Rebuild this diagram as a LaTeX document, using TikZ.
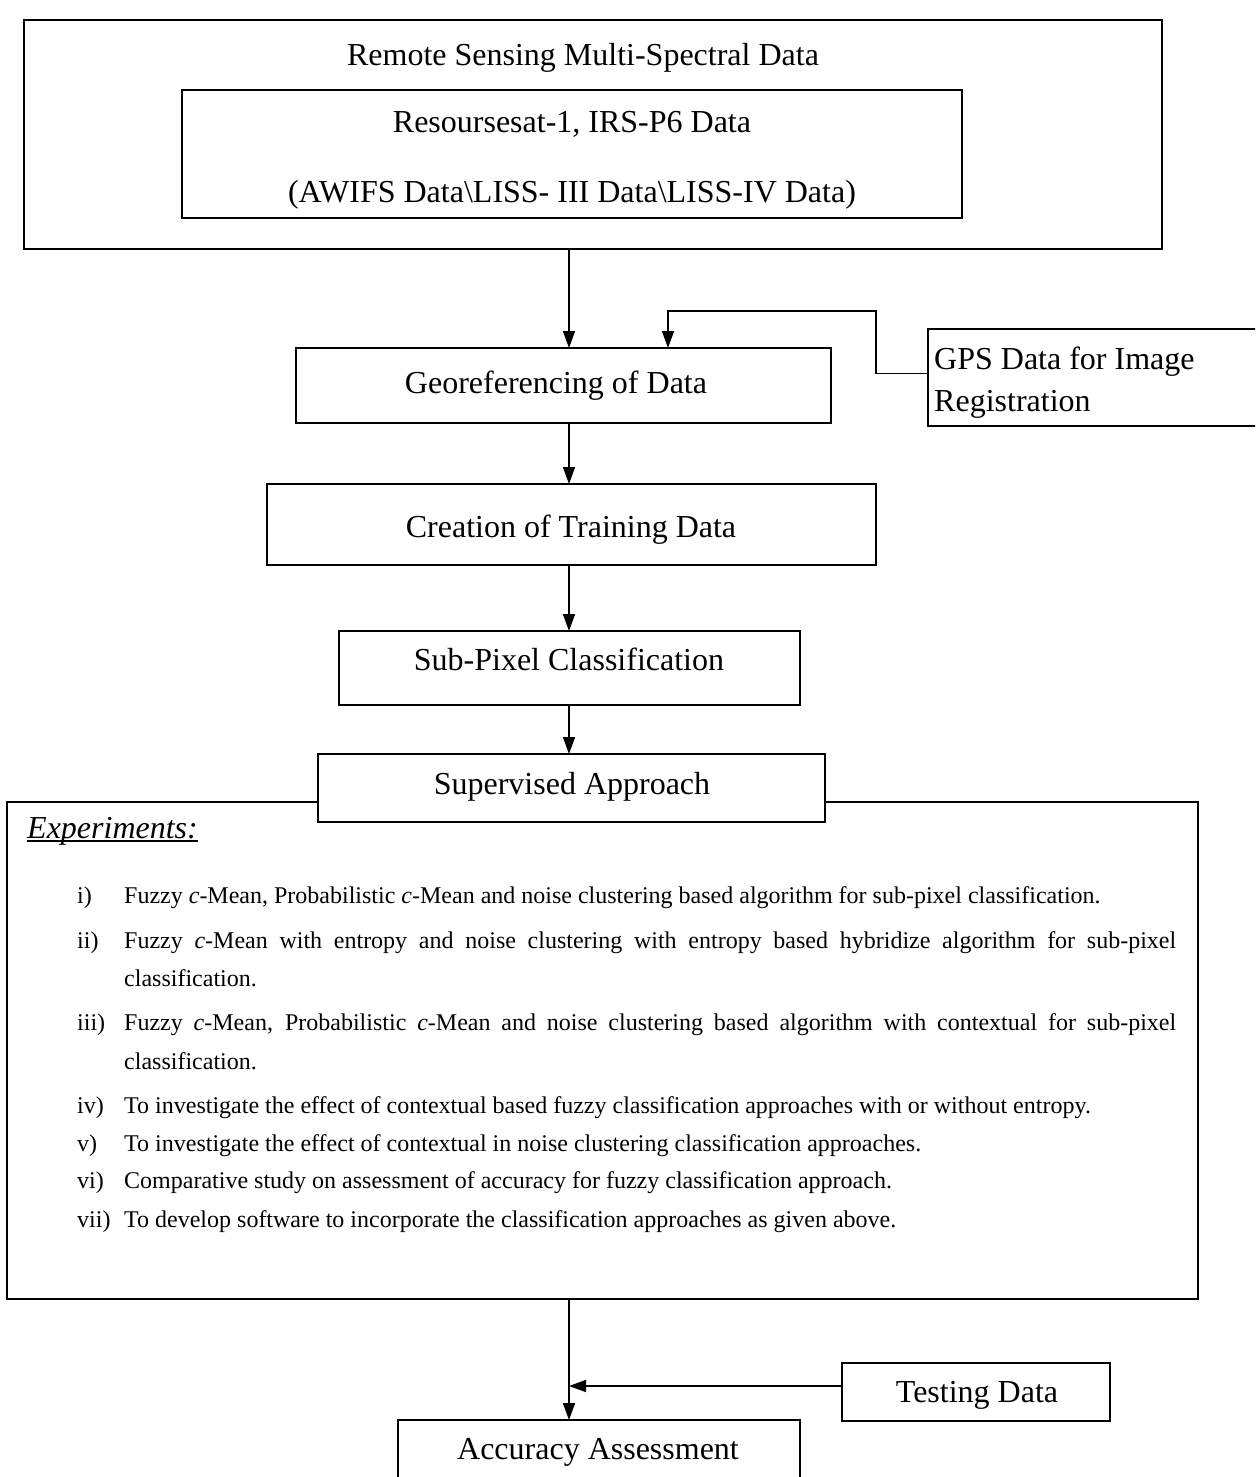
\documentclass[tikz,border=0pt]{standalone}
\usepackage{fontspec}
\setmainfont{Liberation Serif}
\usetikzlibrary{arrows.meta}
\begin{document}
\begin{tikzpicture}[x=1pt,y=-1pt,
  box/.style={draw, line width=2pt, fill=white, inner sep=0pt, outer sep=0pt},
  big/.style={font=\fontsize{32}{38}\selectfont, anchor=base, inner sep=0pt},
  item/.style={font=\fontsize{24}{29}\selectfont, anchor=base west, inner sep=0pt},
  link/.style={line width=1.6pt, -{Triangle[length=17pt,width=12pt]}}]
\clip (0,0) rectangle (1255,1477);
\fill[white] (0,0) rectangle (1255,1477);

% vertical spine of the flow
\coordinate (spine) at (569,0);
\coordinate (gpsin) at (668,0);
\coordinate (bend) at (876,311);

% boxes
\node[box, minimum width=1138pt, minimum height=229pt] (outer) at (593,134.5) {};
\node[box, minimum width=780pt, minimum height=128pt] (inner) at (572,154) {};
\node[box, minimum width=535pt, minimum height=75pt] (georef) at (563.5,385.5) {};
\node[box, minimum width=347pt, minimum height=97pt] (gps) at (1101.5,377.5) {};
\node[box, minimum width=609pt, minimum height=81pt] (train) at (571.5,524.5) {};
\node[box, minimum width=461pt, minimum height=74pt] (subpix) at (569.5,668) {};
\node[box, minimum width=1191pt, minimum height=497pt] (exper) at (602.5,1050.5) {};
\node[box, minimum width=507pt, minimum height=68pt] (superv) at (571.5,788) {};
\node[box, minimum width=268pt, minimum height=58pt] (testing) at (976,1392) {};
\node[box, minimum width=402pt, minimum height=80pt] (accur) at (599,1460) {};

% box texts
\node[big] (title) at (583,66) {Remote Sensing Multi-Spectral Data};
\node[big] (res1) at (572,132) {Resoursesat-1, IRS-P6 Data};
\node[big] (res2) at (572,202) {(AWIFS Data\textbackslash LISS- III Data\textbackslash LISS-IV Data)};
\node[big] (georeft) at (556,393) {Georeferencing of Data};
\node[big, anchor=base west] (gps1) at (934,369) {GPS Data for Image};
\node[big, anchor=base west] (gps2) at (934,411) {Registration};
\node[big] (traint) at (571,537) {Creation of Training Data};
\node[big] (subpixt) at (569,670) {Sub-Pixel Classification};
\node[big] (supervt) at (572,794) {Supervised Approach};
\node[big] (testingt) at (977,1402) {Testing Data};
\node[big] (accurt) at (598,1459) {Accuracy Assessment};

% experiments list
\node[big, anchor=base west] (exphead) at (27,838) {\textit{Experiments:}};
\draw[line width=1.5pt] ([yshift=-3pt]exphead.base west) -- ([yshift=-3pt]exphead.base east);

\node[item] (l1) at (77,903) {i)};
\node[item] (t1) at (124,903) {Fuzzy \textit{c}-Mean, Probabilistic \textit{c}-Mean and noise clustering based algorithm for sub-pixel classification.};
\node[item] (l2) at (77,948) {ii)};
\node[item] (t2) at (124,948) {\makebox[1052pt][s]{Fuzzy \textit{c}-Mean with entropy and noise clustering with entropy based hybridize algorithm for sub-pixel}};
\node[item] (t2b) at (124,986) {classification.};
\node[item] (l3) at (77,1030) {iii)};
\node[item] (t3) at (124,1030) {\makebox[1052pt][s]{Fuzzy \textit{c}-Mean, Probabilistic \textit{c}-Mean and noise clustering based algorithm with contextual for sub-pixel}};
\node[item] (t3b) at (124,1069) {classification.};
\node[item] (l4) at (77,1113) {iv)};
\node[item] (t4) at (124,1113) {To investigate the effect of contextual based fuzzy classification approaches with or without entropy.};
\node[item] (l5) at (77,1151) {v)};
\node[item] (t5) at (124,1151) {To investigate the effect of contextual in noise clustering classification approaches.};
\node[item] (l6) at (77,1188) {vi)};
\node[item] (t6) at (124,1188) {Comparative study on assessment of accuracy for fuzzy classification approach.};
\node[item] (l7) at (77,1227) {vii)};
\node[item] (t7) at (124,1227) {To develop software to incorporate the classification approaches as given above.};

% connectors
\draw[link] (outer.south -| spine) -- (georef.north -| spine);
\draw[link] ([yshift=4pt]gps.west) -| (bend) -| (georef.north -| gpsin);
\draw[link] (georef.south -| spine) -- (train.north -| spine);
\draw[link] (train.south -| spine) -- (subpix.north -| spine);
\draw[link] (subpix.south -| spine) -- (superv.north -| spine);
\draw[link] (exper.south -| spine) -- (accur.north -| spine);
\draw[link] ([yshift=6pt]testing.west) -- ([yshift=6pt]testing.west -| spine);
\end{tikzpicture}
\end{document}
